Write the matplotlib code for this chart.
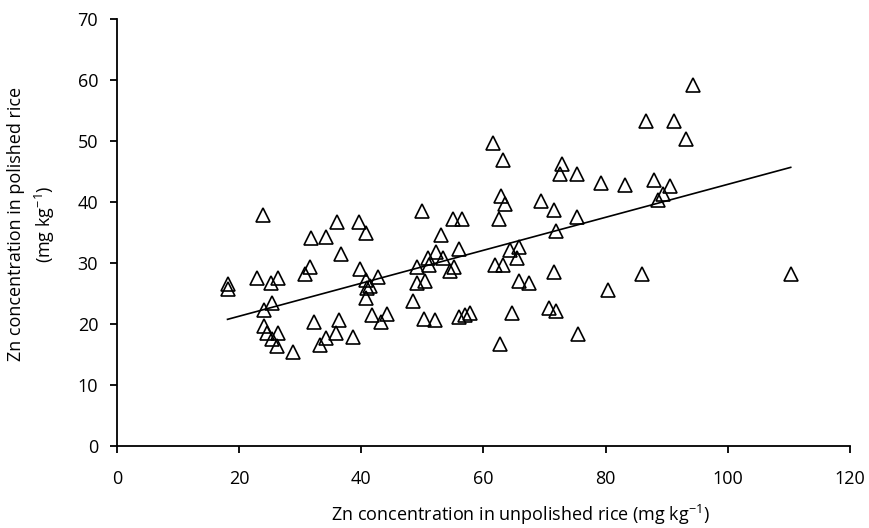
import numpy as np
import matplotlib.pyplot as plt

plt.rcParams['font.family'] = ['Open Sans', 'DejaVu Sans']
plt.rcParams['mathtext.default'] = 'regular'

# Zn in unpolished rice (x) vs polished rice (y), mg kg-1
unpolished = [18.1, 18.1, 23.0, 23.9, 24.0, 24.1, 24.6, 25.2, 25.3, 25.3,
              26.2, 26.3, 26.4, 28.9, 30.8, 31.6, 31.7, 32.3, 33.3, 34.3,
              34.3, 35.9, 36.1, 36.3, 36.7, 38.7, 39.7, 39.8, 40.7, 40.7,
              40.8, 40.9, 41.4, 41.8, 42.7, 43.3, 44.2, 48.5, 49.1, 49.2,
              49.9, 50.3, 50.5, 51.0, 51.1, 52.0, 52.2, 53.1, 53.3, 54.5,
              55.0, 55.2, 56.0, 56.0, 56.5, 56.9, 57.8, 61.6, 61.9, 62.6,
              62.7, 62.9, 63.2, 63.2, 63.6, 64.3, 64.7, 65.5, 65.8, 65.8,
              67.4, 69.4, 70.7, 71.5, 71.5, 71.8, 71.8, 72.6, 72.9, 75.3,
              75.3, 75.5, 79.3, 80.4, 83.2, 86.0, 86.6, 87.9, 88.6, 89.4,
              90.5, 91.2, 93.1, 94.3, 110.3]
polished = [26.6, 25.7, 27.5, 37.9, 22.3, 19.7, 18.5, 26.7, 23.5, 17.5,
            16.4, 18.5, 27.5, 15.4, 28.2, 29.4, 34.2, 20.3, 16.6, 34.3,
            17.7, 18.5, 36.8, 20.7, 31.5, 17.9, 36.8, 29.0, 34.9, 27.2,
            24.2, 25.9, 26.3, 21.5, 27.8, 20.4, 21.6, 23.8, 29.4, 26.8,
            38.5, 20.8, 27.1, 30.8, 29.7, 20.7, 31.9, 34.6, 30.9, 28.7,
            37.3, 29.4, 32.3, 21.2, 37.3, 21.5, 21.8, 49.7, 29.7, 37.3,
            16.8, 41.0, 47.0, 29.7, 39.7, 32.2, 21.8, 30.8, 32.7, 27.1,
            26.8, 40.2, 22.7, 38.7, 28.6, 35.3, 22.2, 44.6, 46.2, 44.6,
            37.5, 18.4, 43.1, 25.6, 42.9, 28.3, 53.3, 43.7, 40.4, 41.3,
            42.6, 53.3, 50.3, 59.3, 28.3]

x = np.array(unpolished)
y = np.array(polished)

fig = plt.figure(figsize=(8.69, 5.28), dpi=100)
ax = fig.add_axes([0.1346, 0.1553, 0.8435, 0.8081])

ax.plot(x, y, ls='none', marker='^', ms=10, mfc='none', mec='black', mew=1.2)

# linear trend line over data range
k, b = np.polyfit(x, y, 1)
xs = np.array([x.min(), x.max()])
ax.plot(xs, k * xs + b, color='black', lw=1.2)

ax.set_xlim(0, 120)
ax.set_ylim(0, 70)
ax.set_xticks(np.arange(0, 121, 20))
ax.set_yticks(np.arange(0, 71, 10))
for s in ['top', 'right']:
    ax.spines[s].set_visible(False)
for s in ['left', 'bottom']:
    ax.spines[s].set_linewidth(1.3)
ax.tick_params(direction='out', length=5, width=1.3, labelsize=13, colors='black')
ax.tick_params(axis='x', pad=12)
ax.tick_params(axis='y', pad=8.5)

ax.set_xlabel('Zn concentration in unpolished rice (mg kg$^{-1}$)', fontsize=13)
ax.set_ylabel('Zn concentration in polished rice\n(mg kg$^{-1}$)', fontsize=13,
              linespacing=1.45)
ax.xaxis.set_label_coords(0.55, -0.134)
ax.yaxis.set_label_coords(-0.082, 0.52)

fig.savefig('out.png', dpi=100)
